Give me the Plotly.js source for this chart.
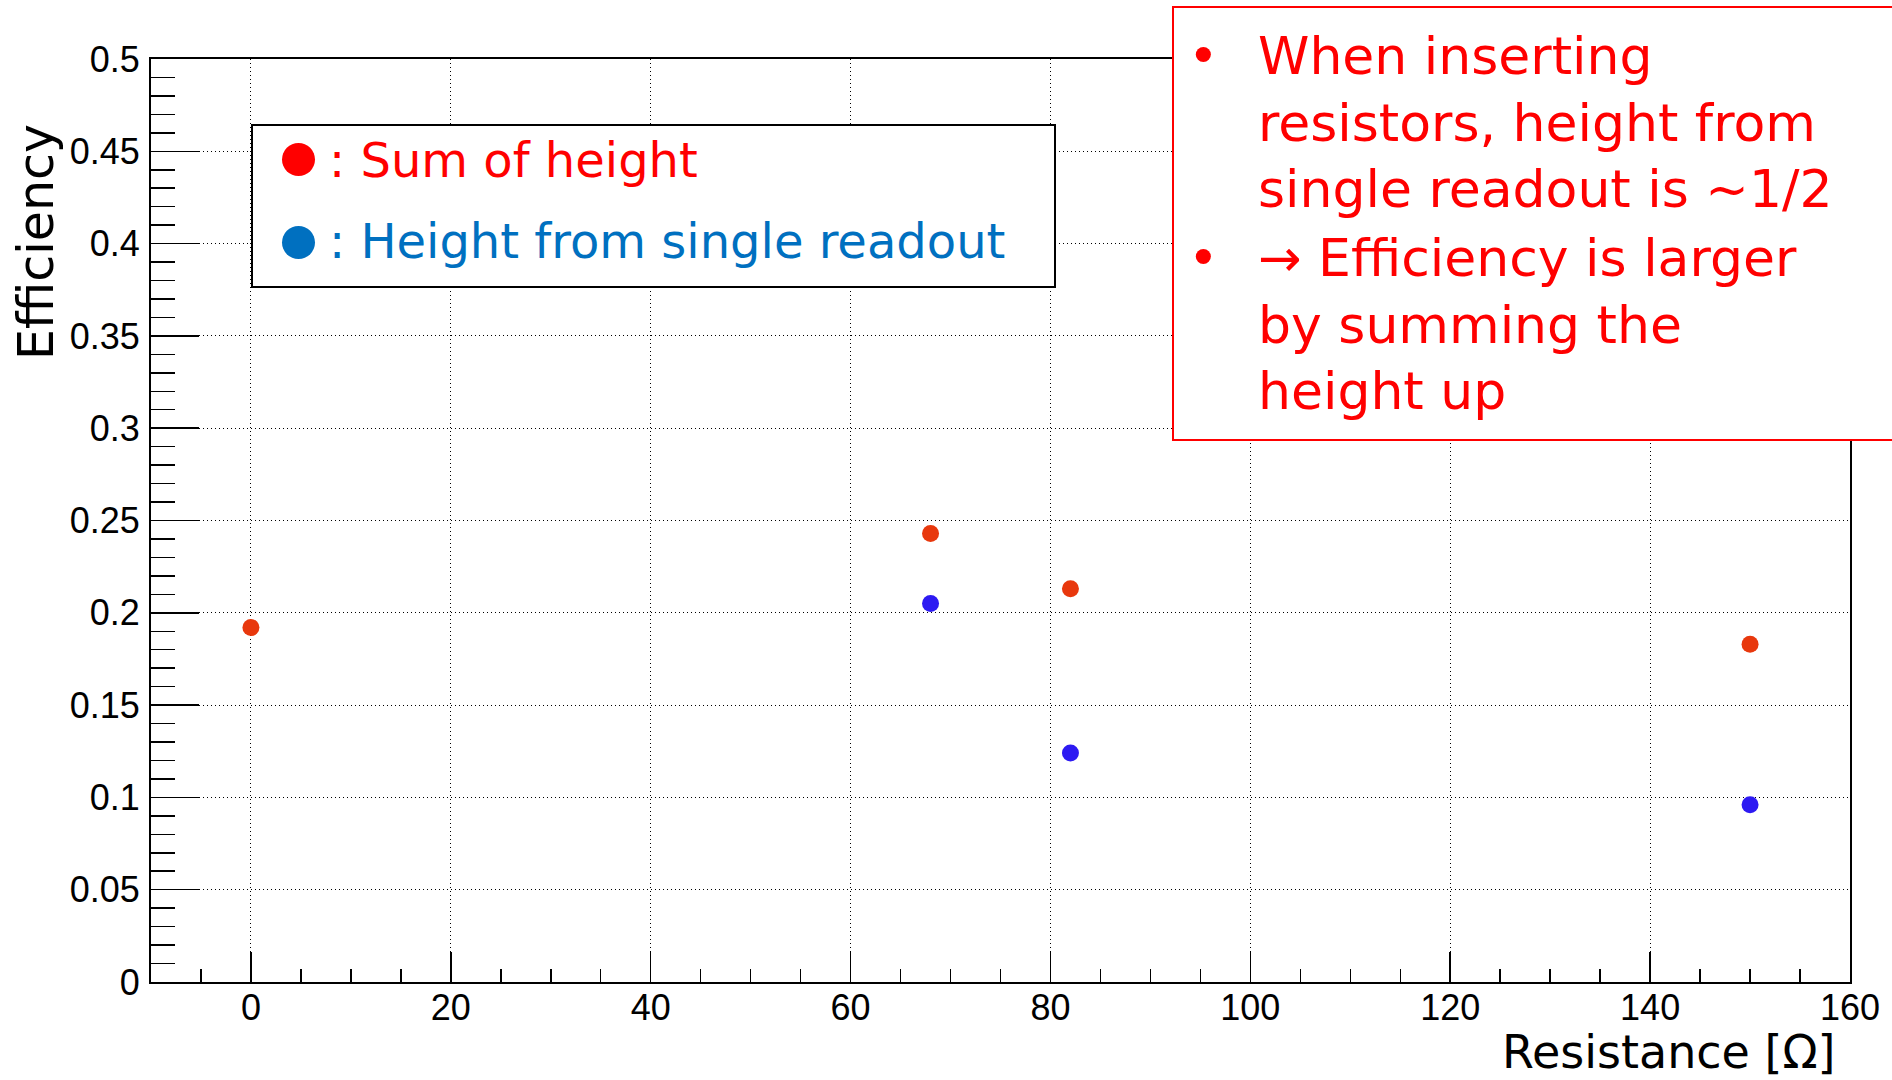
<!DOCTYPE html>
<html>
<head>
<meta charset="utf-8">
<script src="https://cdn.plot.ly/plotly-3.0.1.min.js"></script>
<style>
  html, body { margin: 0; padding: 0; background: #ffffff; }
  #chart { width: 1892px; height: 1080px; }
</style>
</head>
<body>
<div id="chart"></div>
<script>
// ---- data ----
const resistanceSum = [0, 68, 82, 150];
const efficiencySum = [0.192, 0.243, 0.213, 0.183];
const resistanceSingle = [68, 82, 150];
const efficiencySingle = [0.205, 0.124, 0.096];
const seriesNames = ["Sum of height", "Height from single readout"];
const legendLabels = [": Sum of height", ": Height from single readout"];
const xTitle = "Resistance [Ω]";
const yTitle = "Efficiency";
const noteLines = [
  "When inserting",
  "resistors, height from",
  "single readout is ~1/2",
  "→ Efficiency is larger",
  "by summing the",
  "height up"
];
const noteBullets = [true, false, false, true, false, false];

// ---- layout geometry (pixels) ----
const W = 1892, H = 1080;
const M = { l: 151, r: 42, t: 59, b: 98 };
const PW = W - M.l - M.r, PH = H - M.t - M.b;
const px = v => (v - M.l) / PW;
const py = v => (H - M.b - v) / PH;

const textFont = "DejaVu Sans, Noto Sans, sans-serif";
const tickFont = { family: "Liberation Sans, Arial, Helvetica, sans-serif", size: 36, color: "#000" };

const traces = [
  {
    x: resistanceSum, y: efficiencySum, name: seriesNames[0],
    type: "scatter", mode: "markers", showlegend: false,
    marker: { symbol: "circle", size: 17, color: "#e8380d", line: { width: 0 } }
  },
  {
    x: resistanceSingle, y: efficiencySingle, name: seriesNames[1],
    type: "scatter", mode: "markers", showlegend: false,
    marker: { symbol: "circle", size: 17, color: "#2d1af2", line: { width: 0 } }
  }
];

const shapes = [
  // legend box
  { type: "rect", xref: "paper", yref: "paper", layer: "above",
    x0: px(252), x1: px(1055), y0: py(287), y1: py(125),
    fillcolor: "#ffffff", line: { color: "#000000", width: 2 } },
  { type: "circle", xref: "paper", yref: "paper", layer: "above",
    x0: px(282), x1: px(315), y0: py(176), y1: py(143),
    fillcolor: "#ff0000", line: { width: 0 } },
  { type: "circle", xref: "paper", yref: "paper", layer: "above",
    x0: px(282), x1: px(315), y0: py(259), y1: py(226),
    fillcolor: "#0070c0", line: { width: 0 } },
  // note box
  { type: "rect", xref: "paper", yref: "paper", layer: "above",
    x0: px(1173), x1: px(1905), y0: py(440), y1: py(7),
    fillcolor: "#ffffff", line: { color: "#ff0000", width: 2 } }
];

const annotations = [];
const legendColors = ["#ff0000", "#0070c0"];
const legendBaselines = [177, 258];
legendLabels.forEach((t, i) => {
  annotations.push({
    xref: "paper", yref: "paper", x: px(327), y: py(legendBaselines[i] - 0.346 * 48),
    xanchor: "left", yanchor: "middle", showarrow: false, text: t,
    font: { family: textFont, size: 48, color: legendColors[i] }
  });
});

const noteSize = 52;
const noteBaselines = [74, 141, 207, 276, 343, 409];
noteLines.forEach((t, i) => {
  const yc = py(noteBaselines[i] - 0.346 * noteSize);
  annotations.push({
    xref: "paper", yref: "paper", x: px(1256), y: yc,
    xanchor: "left", yanchor: "middle", showarrow: false, text: t,
    font: { family: textFont, size: noteSize, color: "#ff0000" }
  });
  if (noteBullets[i]) {
    annotations.push({
      xref: "paper", yref: "paper", x: px(1203), y: yc,
      xanchor: "center", yanchor: "middle", showarrow: false, text: "•",
      font: { family: textFont, size: noteSize, color: "#ff0000" }
    });
  }
});

// axis titles placed like ROOT (at the axis ends)
annotations.push({
  xref: "paper", yref: "paper", x: px(1838), y: py(1068 - 0.346 * 46),
  xanchor: "right", yanchor: "middle", showarrow: false, text: xTitle,
  font: { family: textFont, size: 46, color: "#000" }
});
annotations.push({
  xref: "paper", yref: "paper", x: px(54 - 0.346 * 49), y: py(242),
  xanchor: "center", yanchor: "middle", showarrow: false, text: yTitle, textangle: -90,
  font: { family: textFont, size: 49, color: "#000" }
});

const axisCommon = {
  showline: true, linecolor: "#000", linewidth: 2, mirror: true,
  ticks: "inside", tickcolor: "#000", tickwidth: 1.5,
  showgrid: true, gridcolor: "#000", gridwidth: 1, griddash: "1px,3px",
  zeroline: false, tickfont: tickFont
};

const layout = {
  width: W, height: H,
  margin: M,
  paper_bgcolor: "#ffffff", plot_bgcolor: "#ffffff",
  showlegend: false,
  xaxis: Object.assign({}, axisCommon, {
    range: [-10, 160], tick0: 0, dtick: 20, ticklen: 30, ticklabelstandoff: -7,
    minor: { dtick: 5, tick0: 0, ticks: "inside", ticklen: 13, tickwidth: 1.5, tickcolor: "#000", showgrid: false }
  }),
  yaxis: Object.assign({}, axisCommon, {
    range: [0, 0.5], tick0: 0, dtick: 0.05, ticklen: 48, ticklabelstandoff: 2,
    minor: { dtick: 0.01, tick0: 0, ticks: "inside", ticklen: 24, tickwidth: 1.5, tickcolor: "#000", showgrid: false }
  }),
  shapes: shapes,
  annotations: annotations
};

Plotly.newPlot("chart", traces, layout, { displayModeBar: false, staticPlot: true });
</script>
</body>
</html>
